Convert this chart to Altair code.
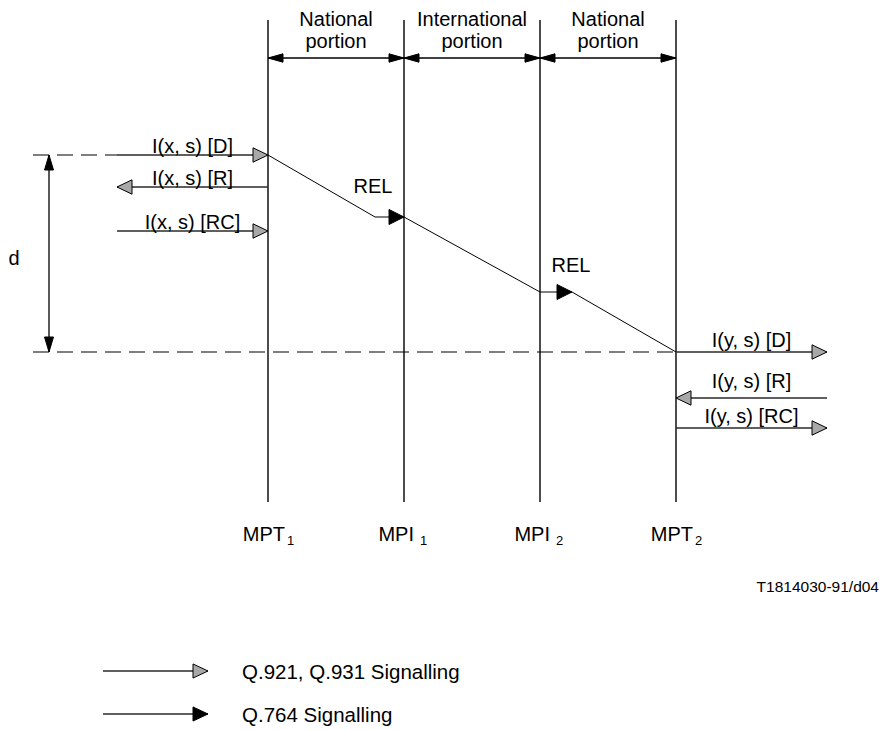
import altair as alt
import pandas as pd

# ---------------- data (pixel coordinates of the sheet) ----------------
node_x = [268, 404, 540, 676]
node_top, node_bottom = 20, 502
node_name = ["MPT", "MPI", "MPI", "MPT"]
node_sub = ["1", "1", "2", "2"]

portion_line1 = ["National", "International", "National"]
portion_line2 = ["portion", "portion", "portion"]
portion_y = 58

msg_text = ["I(x, s) [D]", "I(x, s) [R]", "I(x, s) [RC]",
            "I(y, s) [D]", "I(y, s) [R]", "I(y, s) [RC]"]
msg_y = [155, 187, 231, 352, 398, 428]
msg_from = [117, 268, 117, 676, 827, 676]
msg_to = [268, 117, 268, 827, 676, 827]
msg_label_base = [153, 185, 229, 347, 388, 423]

rel_x = [268, 375, 404, 540, 572, 676]
rel_y = [155, 217, 217, 292, 292, 352]
rel_tip_idx = [2, 4]
rel_label = ["REL", "REL"]
rel_label_x = [373, 571]
rel_label_y = [193, 272]

ref_y = [155, 352]
ref_x_start = 33
ref_x_end = [117, 676]
d_x = 49
d_label = "d"
d_label_pos = (14, 265)

legend_text = ["Q.921, Q.931 Signalling", "Q.764 Signalling"]
legend_y = [671, 714]
legend_x = [103, 208]
legend_text_x = 242

doc_id = "T1814030-91/d04"
doc_id_pos = (879, 592)

# ---------------- scales ----------------
W, H = 872, 722
xs = alt.Scale(domain=[8, 8 + W], nice=False, zero=False)
ys = alt.Scale(domain=[8, 8 + H], nice=False, zero=False, reverse=True)


def X(f):
    return alt.X(f, type="quantitative", scale=xs, axis=None)


def Y(f):
    return alt.Y(f, type="quantitative", scale=ys, axis=None)


FONT = "Liberation Sans"
FS = 20
GRAY = "#a8a8a8"
TRI_WIDE = "M0,0L-1,-0.48L-1,0.48Z"
TRI_NARROW = "M0,0L-1,-0.28L-1,0.28Z"


def heads(df, path, fill, size=900):
    return alt.Chart(df).mark_point(
        shape=path, filled=True, fill=fill, stroke="black", strokeWidth=1,
        size=size, opacity=1, fillOpacity=1
    ).encode(x=X("x"), y=Y("y"), angle=alt.Angle("a:Q", scale=None))


def texts(df, xf, yf, tf, size=FS, align="center"):
    return alt.Chart(df).mark_text(
        font=FONT, fontSize=size, align=align, baseline="alphabetic", color="black"
    ).encode(x=X(xf), y=Y(yf), text=alt.Text(tf, type="nominal"))


# vertical node lines
df_nodes = pd.DataFrame({"x": node_x, "y1": node_top, "y2": node_bottom,
                         "name": node_name, "sub": node_sub})
vlines = alt.Chart(df_nodes).mark_rule(color="black", strokeWidth=1.4).encode(
    x=X("x"), y=Y("y1"), y2=alt.Y2("y2"))

df_nodes["nx"] = [x + (17 if n == "MPT" else 10) for x, n in zip(node_x, node_name)]
df_nodes["sx"] = [x + (19 if n == "MPT" else 16) for x, n in zip(node_x, node_name)]
df_nodes["ny"] = 541
df_nodes["sy"] = 545
node_names = texts(df_nodes, "nx", "ny", "name", align="right")
node_subs = texts(df_nodes, "sx", "sy", "sub", size=13, align="left")

# portions
df_por = pd.DataFrame({"x1": node_x[:-1], "x2": node_x[1:], "y": portion_y,
                       "l1": portion_line1, "l2": portion_line2})
df_por["cx"] = (df_por["x1"] + df_por["x2"]) / 2
df_por["ty1"] = 26
df_por["ty2"] = 48
por_rule = alt.Chart(df_por).mark_rule(color="black", strokeWidth=1.3).encode(
    x=X("x1"), x2=alt.X2("x2"), y=Y("y"))
df_por_heads = pd.DataFrame({
    "x": list(df_por["x1"]) + list(df_por["x2"]),
    "y": [portion_y] * 6,
    "a": [180] * 3 + [0] * 3})
por_heads = heads(df_por_heads, TRI_NARROW, "black")
por_t1 = texts(df_por, "cx", "ty1", "l1")
por_t2 = texts(df_por, "cx", "ty2", "l2")

# messages
df_msg = pd.DataFrame({"x1": msg_from, "x2": msg_to, "y": msg_y, "t": msg_text,
                       "ty": msg_label_base})
df_msg["cx"] = (df_msg["x1"] + df_msg["x2"]) / 2
msg_rule = alt.Chart(df_msg).mark_rule(color="#2a2a2a", strokeWidth=1.6).encode(
    x=X("x1"), x2=alt.X2("x2"), y=Y("y"))
df_msg_heads = pd.DataFrame({"x": msg_to, "y": msg_y,
                             "a": [0 if b > a else 180 for a, b in zip(msg_from, msg_to)]})
msg_heads = heads(df_msg_heads, TRI_WIDE, GRAY)
msg_t = texts(df_msg, "cx", "ty", "t")

# REL path
df_rel = pd.DataFrame({"x": rel_x, "y": rel_y, "o": list(range(len(rel_x)))})
rel_line = alt.Chart(df_rel).mark_line(color="black", strokeWidth=1).encode(
    x=X("x"), y=Y("y"), order="o:Q")
df_rel_heads = pd.DataFrame({"x": [rel_x[i] for i in rel_tip_idx],
                             "y": [rel_y[i] for i in rel_tip_idx], "a": 0})
rel_heads = heads(df_rel_heads, "M0,0L-1,-0.5L-1,0.5Z", "black")
df_rel_t = pd.DataFrame({"x": rel_label_x, "y": rel_label_y, "t": rel_label})
rel_t = texts(df_rel_t, "x", "y", "t")

# dashed reference lines and d arrow
df_ref = pd.DataFrame({"x1": ref_x_start, "x2": ref_x_end, "y": ref_y})
ref_rule = alt.Chart(df_ref).mark_rule(color="#555555", strokeWidth=1.3,
                                       strokeDash=[16, 8]).encode(
    x=X("x1"), x2=alt.X2("x2"), y=Y("y"))
df_d = pd.DataFrame({"x": [d_x], "y1": [ref_y[0]], "y2": [ref_y[1]]})
d_rule = alt.Chart(df_d).mark_rule(color="black", strokeWidth=1.3).encode(
    x=X("x"), y=Y("y1"), y2=alt.Y2("y2"))
df_d_heads = pd.DataFrame({"x": [d_x, d_x], "y": ref_y, "a": [270, 90]})
d_heads = heads(df_d_heads, "M0,0L-1,-0.3L-1,0.3Z", "black")
d_t = texts(pd.DataFrame({"x": [d_label_pos[0]], "y": [d_label_pos[1]], "t": [d_label]}),
            "x", "y", "t")

# legend
df_leg = pd.DataFrame({"x1": legend_x[0], "x2": legend_x[1], "y": legend_y,
                       "t": legend_text, "tx": legend_text_x,
                       "ty": [v + 8 for v in legend_y]})
leg_rule = alt.Chart(df_leg).mark_rule(color="#2a2a2a", strokeWidth=1.4).encode(
    x=X("x1"), x2=alt.X2("x2"), y=Y("y"))
leg_h1 = heads(pd.DataFrame({"x": [legend_x[1]], "y": [legend_y[0]], "a": [0]}),
               "M0,0L-1,-0.47L-1,0.47Z", GRAY)
leg_h2 = heads(pd.DataFrame({"x": [legend_x[1]], "y": [legend_y[1]], "a": [0]}),
               "M0,0L-1,-0.47L-1,0.47Z", "black")
leg_t = texts(df_leg, "tx", "ty", "t", size=20.5, align="left")

doc_t = texts(pd.DataFrame({"x": [doc_id_pos[0]], "y": [doc_id_pos[1]], "t": [doc_id]}),
              "x", "y", "t", size=15.5, align="right")

chart = alt.layer(
    ref_rule, vlines, por_rule, por_heads, por_t1, por_t2,
    rel_line, rel_heads, rel_t,
    msg_rule, msg_heads, msg_t,
    d_rule, d_heads, d_t,
    node_names, node_subs, doc_t,
    leg_rule, leg_h1, leg_h2, leg_t,
).properties(width=W, height=H, padding=0, autosize="none", background="white"
             ).configure_view(stroke=None)

chart.save("out.html", embed_options={"renderer": "svg", "actions": False})
